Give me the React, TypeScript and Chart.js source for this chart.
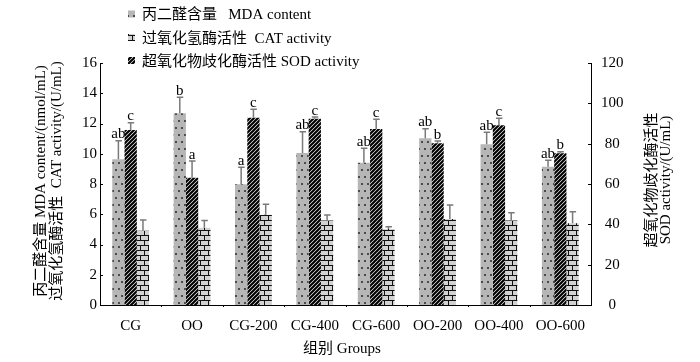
import React, { useEffect, useRef } from "react";
import { Chart, registerables } from "chart.js";

Chart.register(...registerables);

const groups = ["CG", "OO", "CG-200", "CG-400", "CG-600", "OO-200", "OO-400", "OO-600"];
const mdaValues = [9.63, 12.67, 7.98, 10.05, 9.41, 11.02, 10.62, 9.14];
const mdaErrors = [1.23, 1.06, 1.12, 1.41, 0.95, 0.64, 0.8, 0.43];
const mdaLetters = ["ab", "b", "a", "ab", "ab", "ab", "ab", "ab"];
const sodValues = [86.8, 63.1, 92.9, 92.4, 87.3, 80.2, 89.1, 75.2];
const sodErrors = [3.6, 8.3, 4.2, 0.8, 4.8, 1.1, 3.5, 0.8];
const sodLetters = ["c", "a", "c", "c", "c", "b", "c", "b"];
const catValues = [4.91, 5.11, 5.97, 5.58, 5.02, 5.69, 5.58, 5.4];
const catErrors = [0.71, 0.47, 0.69, 0.37, 0.16, 0.92, 0.52, 0.77];

const legendLabels = ["丙二醛含量   MDA content", "过氧化氢酶活性  CAT activity", "超氧化物歧化酶活性 SOD activity"];
const leftTitle = ["丙二醛含量 MDA content/(nmol/mL)", "过氧化氢酶活性  CAT activity/(U/mL)"];
const rightTitle = ["超氧化物歧化酶活性", "SOD activity/(U/mL)"];
const xTitle = "组别 Groups";

const FONT = '"Liberation Serif", "Noto Sans CJK SC", serif';

function makeDots(): CanvasPattern {
  const c = document.createElement("canvas");
  c.width = 6; c.height = 14;
  const g = c.getContext("2d")!;
  g.fillStyle = "#b6b6b6"; g.fillRect(0, 0, 6, 14);
  g.fillStyle = "#4a4a4a";
  g.fillRect(1, 1, 2, 2);
  g.fillRect(4, 8, 2, 2);
  return g.createPattern(c, "repeat")!;
}
function makeHatch(): CanvasPattern {
  const c = document.createElement("canvas");
  c.width = 4; c.height = 4;
  const g = c.getContext("2d")!;
  g.fillStyle = "#fff"; g.fillRect(0, 0, 4, 4);
  g.strokeStyle = "#000"; g.lineWidth = 2.2;
  g.beginPath();
  g.moveTo(0, 4); g.lineTo(4, 0);
  g.moveTo(-1, 1); g.lineTo(1, -1);
  g.moveTo(3, 5); g.lineTo(5, 3);
  g.stroke();
  return g.createPattern(c, "repeat")!;
}
function makeBrick(): CanvasPattern {
  const c = document.createElement("canvas");
  c.width = 8; c.height = 10;
  const g = c.getContext("2d")!;
  g.fillStyle = "#d2d2d2"; g.fillRect(0, 0, 8, 10);
  g.fillStyle = "#111";
  g.fillRect(0, 0, 8, 1);
  g.fillRect(0, 5, 8, 1);
  g.fillRect(0, 0, 1, 5);
  g.fillRect(4, 5, 1, 5);
  return g.createPattern(c, "repeat")!;
}

export default function App() {
  const ref = useRef<HTMLCanvasElement>(null);
  useEffect(() => {
    document.body.style.margin = "0";
    const dots = makeDots();
    const hatch = makeHatch();
    const brick = makeBrick();
    const errs = [mdaErrors, sodErrors, catErrors];
    const letters: (string[] | null)[] = [mdaLetters, sodLetters, null];

    const overlay = {
      id: "overlay",
      afterDatasetsDraw(chart: any) {
        const ctx = chart.ctx as CanvasRenderingContext2D;
        ctx.save();
        chart.data.datasets.forEach((ds: any, di: number) => {
          const meta = chart.getDatasetMeta(di);
          const ys = chart.scales[meta.yAxisID];
          meta.data.forEach((bar: any, i: number) => {
            const v = ds.data[i];
            const e = errs[di][i];
            const x = bar.x;
            const yTop = ys.getPixelForValue(v + e);
            ctx.strokeStyle = "#7a7a7a";
            ctx.lineWidth = 1.5;
            ctx.beginPath();
            ctx.moveTo(x, bar.y);
            ctx.lineTo(x, yTop);
            ctx.moveTo(x - 3, yTop);
            ctx.lineTo(x + 3.5, yTop);
            ctx.stroke();
            const L = letters[di];
            if (L) {
              ctx.fillStyle = "#000";
              ctx.font = "15px " + FONT;
              ctx.textAlign = "center";
              ctx.textBaseline = "alphabetic";
              ctx.fillText(L[i], x, yTop - 2.5);
            }
          });
        });
        ctx.restore();
      },
      afterDraw(chart: any) {
        const ctx = chart.ctx as CanvasRenderingContext2D;
        const ca = chart.chartArea;
        ctx.save();
        ctx.strokeStyle = "#000";
        ctx.lineWidth = 1;
        ctx.beginPath();
        const yl = chart.scales.y;
        yl.ticks.forEach((t: any) => {
          const py = Math.round(yl.getPixelForValue(t.value)) + 0.5;
          ctx.moveTo(ca.left, py); ctx.lineTo(ca.left + 3, py);
        });
        const yr = chart.scales.y1;
        yr.ticks.forEach((t: any) => {
          const py = Math.round(yr.getPixelForValue(t.value)) + 0.5;
          ctx.moveTo(ca.right, py); ctx.lineTo(ca.right - 3, py);
        });
        const xs = chart.scales.x;
        for (let i = 0; i < groups.length - 1; i++) {
          const px = Math.round((xs.getPixelForValue(i) + xs.getPixelForValue(i + 1)) / 2) + 0.5;
          ctx.moveTo(px, ca.bottom); ctx.lineTo(px, ca.bottom + 2);
        }
        ctx.stroke();

        ctx.fillStyle = "#000";
        ctx.font = "15px " + FONT;
        ctx.textAlign = "center";
        ctx.textBaseline = "middle";
        const lx = [41, 57];
        leftTitle.forEach((t, k) => {
          ctx.save();
          ctx.translate(lx[k], 181);
          ctx.rotate(-Math.PI / 2);
          ctx.fillText(t, 0, 0);
          ctx.restore();
        });
        const rx = [652, 666];
        rightTitle.forEach((t, k) => {
          ctx.save();
          ctx.translate(rx[k], 180);
          ctx.rotate(-Math.PI / 2);
          ctx.fillText(t, 0, 0);
          ctx.restore();
        });
        ctx.fillText(xTitle, 342, 349);

        const fills = [dots, brick, hatch];
        const rows = [15.5, 39, 62];
        ctx.textAlign = "left";
        legendLabels.forEach((t, k) => {
          ctx.fillStyle = fills[k] as any;
          ctx.fillRect(128, rows[k] - 5, 7, 7);
          ctx.fillStyle = "#000";
          ctx.fillText(t, 142, rows[k]);
        });
        ctx.restore();
      },
    };

    const tickFont = { family: FONT, size: 15 };
    const chart = new Chart(ref.current!, {
      type: "bar",
      data: {
        labels: groups,
        datasets: [
          { label: "MDA", data: mdaValues, backgroundColor: dots as any, yAxisID: "y", categoryPercentage: 0.6, barPercentage: 1 },
          { label: "SOD", data: sodValues, backgroundColor: hatch as any, yAxisID: "y1", categoryPercentage: 0.6, barPercentage: 1 },
          { label: "CAT", data: catValues, backgroundColor: brick as any, yAxisID: "y", categoryPercentage: 0.6, barPercentage: 1 },
        ],
      },
      options: {
        animation: false,
        responsive: false,
        maintainAspectRatio: false,
        layout: { padding: { top: 63, left: 0, right: 0, bottom: 0 } },
        plugins: { legend: { display: false }, tooltip: { enabled: false } },
        scales: {
          x: {
            grid: { display: false, drawTicks: false },
            border: { display: true, color: "#000", width: 1 },
            ticks: { color: "#000", font: tickFont, padding: 12, maxRotation: 0, autoSkip: false },
            afterFit: (s: any) => { s.height = 57; },
          },
          y: {
            position: "left",
            min: 0, max: 16,
            grid: { display: false, drawTicks: false },
            border: { display: true, color: "#000", width: 1 },
            ticks: { color: "#000", font: tickFont, stepSize: 2, padding: 3 },
            afterFit: (s: any) => { s.width = 100; },
          },
          y1: {
            position: "right",
            min: 0, max: 120,
            grid: { display: false, drawTicks: false },
            border: { display: true, color: "#000", width: 1 },
            ticks: { color: "#000", font: tickFont, stepSize: 20, padding: 10, crossAlign: "center" },
            afterFit: (s: any) => { s.width = 109; },
          },
        },
      },
      plugins: [overlay],
    });
    return () => chart.destroy();
  }, []);
  return (
    <div style={{ width: 700, height: 362 }}>
      <canvas ref={ref} width={700} height={362} style={{ display: "block" }} />
    </div>
  );
}
